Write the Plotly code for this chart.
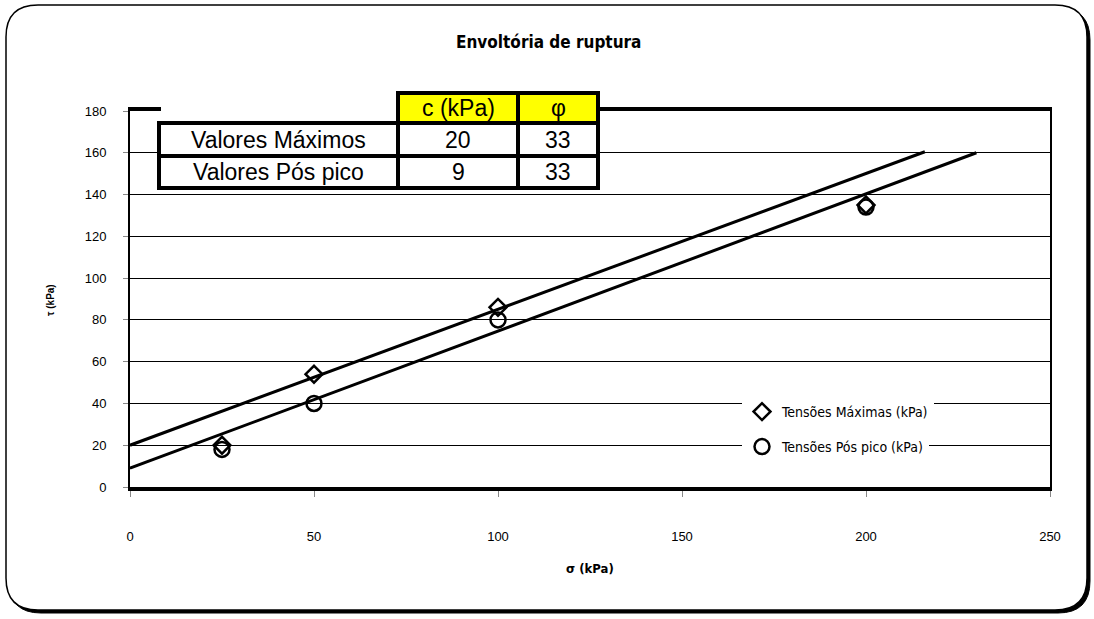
import plotly.graph_objects as go

# ---------------- data ----------------
sigma = [25, 50, 100, 200]
tau_max = [20, 54, 86, 135]
tau_pos = [18, 40, 80, 134]

env_max_x = [0, 216]
env_max_y = [20, 160.5]
env_pos_x = [0, 230]
env_pos_y = [9, 160]

table_header = ["c (kPa)", "φ"]
row_labels = ["Valores Máximos", "Valores Pós pico"]
c_values = ["20", "9"]
phi_values = ["33", "33"]

x_ticks = [0, 50, 100, 150, 200, 250]
y_ticks = [0, 20, 40, 60, 80, 100, 120, 140, 160, 180]

series_names = ["Tensões Máximas (kPa)", "Tensões Pós pico (kPa)"]

# ---------------- layout geometry (pixels) ----------------
W, H = 1094, 619
L, R, T, B = 130, 1050, 111, 487


def px(x):
    return (x - L) / (R - L)


def py(y):
    return (B - y) / (B - T)


fig = go.Figure()

fig.add_trace(go.Scatter(x=env_max_x, y=env_max_y, mode="lines",
                         line=dict(color="black", width=3), showlegend=False,
                         hoverinfo="skip"))
fig.add_trace(go.Scatter(x=env_pos_x, y=env_pos_y, mode="lines",
                         line=dict(color="black", width=3), showlegend=False,
                         hoverinfo="skip"))
fig.add_trace(go.Scatter(x=sigma, y=tau_max, mode="markers", name=series_names[0],
                         marker=dict(symbol="diamond-open", size=13, color="black",
                                     line=dict(width=2.5, color="black")),
                         legend="legend"))
fig.add_trace(go.Scatter(x=sigma, y=tau_pos, mode="markers", name=series_names[1],
                         marker=dict(symbol="circle-open", size=15, color="black",
                                     line=dict(width=2.5, color="black")),
                         legend="legend2"))

shapes = []

# chart frame with rounded corners and shadow
def frame_path(l, t, r, b, rad, dx=0, dy=0):
    l, t, r, b = l + dx, t + dy, r + dx, b + dy
    pts = [
        ("M", [(l, t + rad)]),
        ("Q", [(l, t), (l + rad, t)]),
        ("L", [(r - rad, t)]),
        ("Q", [(r, t), (r, t + rad)]),
        ("L", [(r, b - rad)]),
        ("Q", [(r, b), (r - rad, b)]),
        ("L", [(l + rad, b)]),
        ("Q", [(l, b), (l, b - rad)]),
    ]
    s = ""
    for cmd, ps in pts:
        s += cmd + " " + " ".join(f"{px(a):.5f},{py(c):.5f}" for a, c in ps) + " "
    return s + "Z"


shapes.append(dict(type="path", xref="paper", yref="paper", layer="below",
                   path=frame_path(6, 5, 1087, 610, 32, 3, 3),
                   fillcolor="black", line=dict(color="black", width=1)))
shapes.append(dict(type="path", xref="paper", yref="paper", layer="below",
                   path=frame_path(6, 5, 1087, 610, 32),
                   fillcolor="white", line=dict(color="black", width=1.5)))

# table
def rect(x0, x1, y0, y1, fill, lw=4):
    return dict(type="rect", xref="paper", yref="paper", layer="above",
                x0=px(x0), x1=px(x1), y0=py(y1), y1=py(y0),
                fillcolor=fill, line=dict(color="black", width=lw))


shapes.append(dict(type="rect", xref="paper", yref="paper", layer="above",
                   x0=px(161), x1=px(396), y0=py(124), y1=py(100),
                   fillcolor="white", line=dict(width=0)))
col_x = [159, 398, 518, 598]
hdr_y = [93, 123]
row_y = [123, 156, 188]
shapes.append(rect(col_x[1], col_x[2], hdr_y[0], hdr_y[1], "#FFFF00"))
shapes.append(rect(col_x[2], col_x[3], hdr_y[0], hdr_y[1], "#FFFF00"))
for i in range(2):
    for j in range(3):
        shapes.append(rect(col_x[j], col_x[j + 1], row_y[i], row_y[i + 1], "white"))

annotations = []
tfont = dict(family="Liberation Sans, Arial, sans-serif", size=23, color="black")
for j, txt in enumerate(table_header):
    annotations.append(dict(xref="paper", yref="paper", showarrow=False,
                            x=px((col_x[j + 1] + col_x[j + 2]) / 2),
                            y=py((hdr_y[0] + hdr_y[1]) / 2),
                            text=txt, font=tfont, xanchor="center", yanchor="middle"))
for i in range(2):
    yc = py((row_y[i] + row_y[i + 1]) / 2)
    for j, txt in enumerate([row_labels[i], c_values[i], phi_values[i]]):
        annotations.append(dict(xref="paper", yref="paper", showarrow=False,
                                x=px((col_x[j] + col_x[j + 1]) / 2), y=yc,
                                text=txt, font=tfont, xanchor="center", yanchor="middle"))

# titles
annotations.append(dict(xref="paper", yref="paper", showarrow=False,
                        x=px(548), y=py(42), text="<b>Envoltória de ruptura</b>",
                        font=dict(family="DejaVu Sans Condensed, DejaVu Sans, sans-serif",
                                  size=17, color="black"),
                        xanchor="center", yanchor="middle"))
annotations.append(dict(xref="paper", yref="paper", showarrow=False,
                        x=px(590), y=py(568), text="<b>σ (kPa)</b>",
                        font=dict(family="DejaVu Sans Condensed, DejaVu Sans, sans-serif",
                                  size=13, color="black"),
                        xanchor="center", yanchor="middle"))
annotations.append(dict(xref="paper", yref="paper", showarrow=False,
                        x=px(50), y=py(300), text="<b>τ (kPa)</b>", textangle=-90,
                        font=dict(family="Liberation Sans, Arial, sans-serif",
                                  size=10, color="black"),
                        xanchor="center", yanchor="middle"))

legfont = dict(family="DejaVu Sans Condensed, DejaVu Sans, sans-serif", size=14, color="black")

fig.update_layout(
    width=W, height=H,
    margin=dict(l=L, r=W - R, t=T, b=H - B, pad=0),
    paper_bgcolor="white", plot_bgcolor="rgba(0,0,0,0)",
    shapes=shapes, annotations=annotations,
    legend=dict(x=px(742), y=py(412), xanchor="left", yanchor="middle",
                bgcolor="white", font=legfont, itemwidth=30,
                borderwidth=0, tracegroupgap=0),
    legend2=dict(x=px(742), y=py(447), xanchor="left", yanchor="middle",
                 bgcolor="white", font=legfont, itemwidth=30,
                 borderwidth=0, tracegroupgap=0),
    xaxis=dict(range=[0, 250], tickvals=x_ticks, ticktext=[str(v) for v in x_ticks],
               showgrid=False, zeroline=False, showline=True, linecolor="black",
               linewidth=4, mirror=True, ticks="outside", ticklen=6, tickwidth=1,
               tickcolor="#888888", ticklabelstandoff=28,
               tickfont=dict(family="Liberation Sans, Arial, sans-serif", size=13,
                             color="black")),
    yaxis=dict(range=[0, 180], tickvals=y_ticks, ticktext=[str(v) for v in y_ticks],
               showgrid=True, gridcolor="black", gridwidth=1, zeroline=False,
               showline=True, linecolor="black", linewidth=2, mirror=True,
               ticks="outside", ticklen=5, tickwidth=1, tickcolor="#888888",
               ticklabelstandoff=14,
               tickfont=dict(family="Liberation Sans, Arial, sans-serif", size=13,
                             color="black")),
)

fig.write_html("out.html", config={"displayModeBar": False},
               post_script="document.body.style.margin='0';document.body.style.overflow='hidden';")
